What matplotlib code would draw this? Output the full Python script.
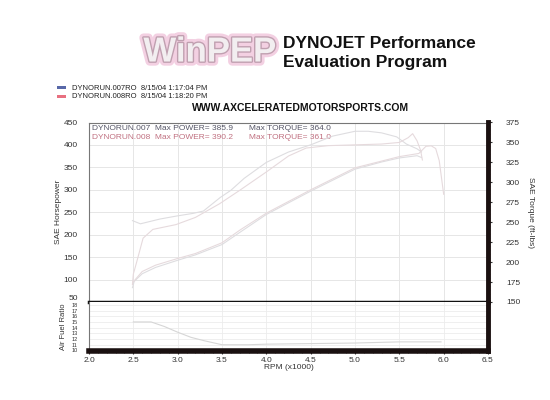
import matplotlib.pyplot as plt
import matplotlib.patheffects as pe
from matplotlib.patches import Rectangle

plt.rcParams['font.family'] = ['Liberation Sans', 'DejaVu Sans']

# run .007 (torque peaks 364 near 5000 rpm)
rpm_tq_007 = [2.49, 2.58, 2.80, 3.0, 3.17, 3.29, 3.48, 3.6, 3.75, 4.0, 4.25, 4.5, 4.75, 5.0, 5.15, 5.3, 5.47, 5.58, 5.7, 5.75]
tq_007 = [252, 248, 254, 258, 261, 264, 281, 290, 305, 325, 338, 347, 358, 364, 364, 362, 357, 348, 342, 338]
rpm_hp_007 = [2.49, 2.51, 2.6, 2.75, 3.0, 3.2, 3.5, 3.7, 4.0, 4.5, 5.0, 5.3, 5.5, 5.7, 5.75]
hp_007 = [82, 96, 113, 127, 143, 155, 178, 205, 245, 297, 346, 362, 371, 376, 372]

# run .008
rpm_tq_008 = [2.49, 2.50, 2.54, 2.61, 2.72, 2.98, 3.2, 3.47, 3.7, 4.0, 4.25, 4.45, 4.7, 5.0, 5.3, 5.5, 5.6, 5.65, 5.7, 5.74, 5.76]
tq_008 = [172, 185, 201, 230, 241, 247, 256, 273, 290, 313, 333, 343, 346, 347, 348, 350, 356, 361, 352, 340, 328]
rpm_hp_008 = [2.5, 2.6, 2.75, 3.0, 3.2, 3.5, 3.7, 4.0, 4.5, 5.0, 5.3, 5.5, 5.72, 5.8, 5.86, 5.91, 5.95, 5.98, 6.0]
hp_008 = [95, 118, 132, 147, 158, 182, 210, 248, 300, 349, 364, 374, 381, 397, 398, 392, 365, 320, 290]

rpm_afr = [2.5, 2.7, 2.85, 3.0, 3.15, 3.3, 3.5, 3.8, 4.0, 4.5, 5.0, 5.5, 5.97]
afr = [15.0, 15.0, 14.2, 13.2, 12.3, 11.7, 11.0, 11.0, 11.1, 11.2, 11.3, 11.5, 11.5]

rpm_ticks = [2.0, 2.5, 3.0, 3.5, 4.0, 4.5, 5.0, 5.5, 6.0, 6.5]
hp_ticks = [50, 100, 150, 200, 250, 300, 350, 400, 450]
tq_ticks = [150, 175, 200, 225, 250, 275, 300, 325, 350, 375]
afr_ticks = [10, 11, 12, 13, 14, 15, 16, 17, 18]

W, H = 550, 400
def fx(px):
    return px / W
def fy(py):
    return 1 - py / H

fig = plt.figure(figsize=(5.5, 4), dpi=100)
fig.patch.set_facecolor('white')

text_col = '#333333'
grid_col = '#e6e6e6'
c007 = '#dedde0'
c008 = '#e6dadd'

ax = fig.add_axes([fx(89), fy(302), fx(399), 179.5 / H])
ax.set_xlim(2.0, 6.5)
ax.set_ylim(50, 450)
ax.set_xticks(rpm_ticks)
ax.set_xticklabels([])
ax.set_yticks(hp_ticks)
ax.grid(True, color=grid_col, lw=0.7)
ax.tick_params(axis='y', labelsize=6, colors=text_col, length=0, pad=8)
ax.tick_params(axis='x', length=0)
ax.get_yticklabels()[0].set_va('bottom')
ax.set_ylabel('SAE Horsepower', fontsize=6, color=text_col, labelpad=1)
for s in ['top', 'left']:
    ax.spines[s].set_color('#777777')
    ax.spines[s].set_linewidth(0.8)
ax.spines['right'].set_visible(False)
ax.spines['bottom'].set_color('#111111')
ax.spines['bottom'].set_linewidth(2.5)

ax.plot(rpm_hp_007, hp_007, color=c007, lw=0.8)
ax.plot(rpm_hp_008, hp_008, color=c008, lw=0.8)

ax2 = ax.twinx()
ax2.set_ylim(150, 375)
ax2.set_yticks(tq_ticks)
ax2.set_yticks(range(150, 376, 5), minor=True)
ax2.tick_params(axis='y', which='major', labelsize=6, colors=text_col, length=3, pad=10)
ax2.tick_params(axis='y', which='minor', length=1.5, color='#888888')
ax2.set_ylabel('SAE Torque (ft-lbs)', fontsize=6, color=text_col, rotation=-90, labelpad=10)
for s in ['top', 'left', 'bottom']:
    ax2.spines[s].set_visible(False)
ax2.spines['right'].set_color('#1a1010')
ax2.spines['right'].set_linewidth(3.5)
ax2.plot(rpm_tq_007, tq_007, color=c007, lw=0.8)
ax2.plot(rpm_tq_008, tq_008, color=c008, lw=0.8)

ax.text(0.008, 0.985, 'DYNORUN.007  Max POWER= 385.9', transform=ax.transAxes,
        fontsize=6, color='#555566', va='top')
ax.text(0.008, 0.935, 'DYNORUN.008  Max POWER= 390.2', transform=ax.transAxes,
        fontsize=6, color='#c07080', va='top')
ax.text(0.40, 0.985, 'Max TORQUE= 364.0', transform=ax.transAxes,
        fontsize=6, color='#555566', va='top')
ax.text(0.40, 0.935, 'Max TORQUE= 361.0', transform=ax.transAxes,
        fontsize=6, color='#c07080', va='top')

afr_ax = fig.add_axes([fx(89), fy(351), fx(399), 49 / H])
afr_ax.set_xlim(2.0, 6.5)
afr_ax.set_ylim(9.9, 18.5)
afr_ax.set_xticks(rpm_ticks)
afr_ax.set_xticks([2.0 + 0.1 * i for i in range(46)], minor=True)
afr_ax.set_xticklabels(['%.1f' % r for r in rpm_ticks])
afr_ax.set_yticks(afr_ticks)
afr_ax.grid(True, color='#ececec', lw=0.6)
afr_ax.tick_params(axis='y', labelsize=4, colors=text_col, length=0, pad=8)
afr_ax.tick_params(axis='x', which='major', labelsize=6, colors=text_col, length=2, pad=2)
afr_ax.tick_params(axis='x', which='minor', length=1.5, color='#555555')
afr_ax.set_xlabel('RPM (x1000)', fontsize=6, color=text_col, labelpad=0)
afr_ax.set_ylabel('Air Fuel Ratio', fontsize=5.5, color=text_col, labelpad=3)
afr_ax.spines['top'].set_visible(False)
afr_ax.spines['left'].set_color('#777777')
afr_ax.spines['left'].set_linewidth(0.8)
afr_ax.spines['right'].set_color('#1a1010')
afr_ax.spines['right'].set_linewidth(3.5)
afr_ax.spines['bottom'].set_color('#1a1010')
afr_ax.spines['bottom'].set_linewidth(4)
afr_ax.plot(rpm_afr, afr, color='#d6d6d6', lw=0.8)

# header
fig.text(fx(210), fy(52), 'WinPEP', fontsize=25, fontweight='bold', ha='center', va='center',
         color='#f2eef0',
         path_effects=[pe.Stroke(linewidth=6, foreground='#f3d0e2'),
                       pe.Stroke(linewidth=2.0, foreground='#c0a0b0'),
                       pe.Normal()])
fig.text(fx(283), fy(44), 'DYNOJET Performance', fontsize=12.5, fontweight='bold',
         color='#111111', va='center')
fig.text(fx(283), fy(62), 'Evaluation Program', fontsize=12.5, fontweight='bold',
         color='#111111', va='center')

fig.patches.append(Rectangle((fx(57), fy(89)), fx(9), 3 / H, transform=fig.transFigure,
                             facecolor='#5868a8', edgecolor='none'))
fig.patches.append(Rectangle((fx(57), fy(98)), fx(9), 3 / H, transform=fig.transFigure,
                             facecolor='#e87080', edgecolor='none'))
fig.text(fx(72), fy(88), 'DYNORUN.007RO  8/15/04 1:17:04 PM', fontsize=5.5, color='#222222', va='center')
fig.text(fx(72), fy(97), 'DYNORUN.008RO  8/15/04 1:18:20 PM', fontsize=5.5, color='#222222', va='center')
fig.text(fx(192), fy(108), 'WWW.AXCELERATEDMOTORSPORTS.COM', fontsize=7.5, fontweight='bold',
         color='#111111', va='center')

fig.savefig('out.png', dpi=100)
